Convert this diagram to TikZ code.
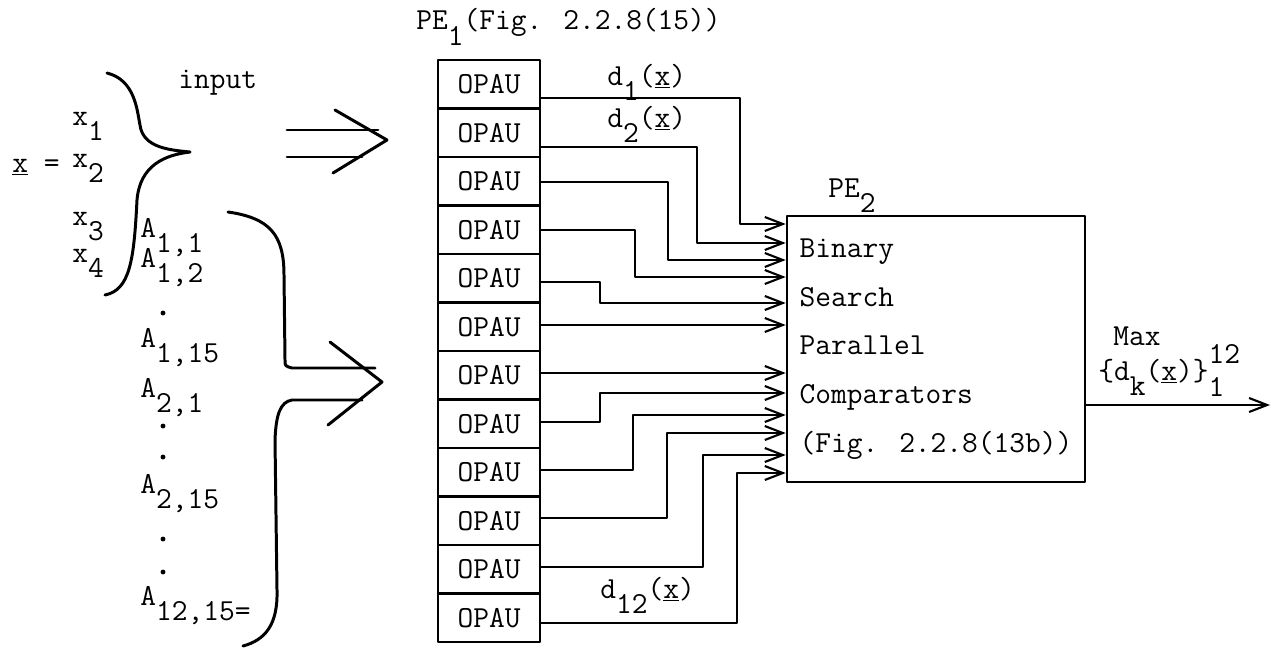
\documentclass[tikz,border=0pt]{standalone}
\usepackage{tikz}
\usetikzlibrary{arrows.meta,calc}
\newcommand{\dn}[1]{\raisebox{-0.5em}{#1}}
\tikzset
{
  typed/.style={font=\ttfamily\fontsize{17.4}{20}\selectfont,inner sep=0pt},
  cell/.style={typed,draw,line width=1.5pt,minimum width=2.04cm,minimum height=0.97cm},
  wire/.style={line width=1.4pt,-{Straight Barb[length=3.6mm,width=2.8mm,line width=1.2pt]}},
  brace/.style={line width=1.7pt},
  bigbox/.style={draw,line width=1.5pt,minimum width=5.96cm,minimum height=5.32cm,align=left,
                 font=\ttfamily\fontsize{17.4}{27.8}\selectfont}
}
\begin{document}
\begin{tikzpicture}[x=0.02cm,y=-0.02cm,line cap=round,line join=round]
  \useasboundingbox (0,0) rectangle (1274,649);
  % PE1 stolpec
  \foreach\i in{1,...,12}
    \node[cell] (op\i) at (489,{60+48.5*(\i-0.5)}) {OPAU};
  \node[typed,anchor=base west] (pe1lbl) at (416,30) {PE\dn{1}(Fig. 2.2.8(15))};
  % PE2
  \node[bigbox] (pe2) at (936,349) {Binary\\Search\\Parallel\\Comparators\\(Fig. 2.2.8(13b))};
  \node[typed,anchor=base west] (pe2lbl) at (828,197) {PE\dn{2}};
  % povezave
  \foreach\i/\ey/\vx/\iy in{1/98/740/224,2/147/697/243,3/182/668/260,4/230/635/277,
                            5/282/600/303,6/325/600/325,7/373/600/373,8/422/600/393,
                            9/470/633/415,10/518/667/433,11/567/703/455,12/623/737/473}
    \draw[wire] (op\i.east |- 0,\ey) -| (\vx,\iy) -- (pe2.west |- 0,\iy);
  \node[typed,anchor=base west] (d1)  at (607,85)  {d\dn{1}(\underline{x})};
  \node[typed,anchor=base west] (d2)  at (607,127) {d\dn{2}(\underline{x})};
  \node[typed,anchor=base west] (d12) at (600,598) {d\dn{12}(\underline{x})};
  % izhod
  \coordinate (out) at (1270,405);
  \draw[wire] (pe2.east |- out) -- (out);
  \node[typed,anchor=base west] (maxlbl) at (1113,345) {Max};
  \node[typed,anchor=base west] (dk) at (1098,380)
    {\{d\dn{k}(\underline{x})\}\rlap{\raisebox{0.55em}{12}}\raisebox{-0.55em}{1}};
  % vhod x
  \node[typed,anchor=base west] (xvec) at (12,172) {\underline{x} =};
  \foreach\i/\y in{1/125,2/167,3/225,4/262}
    \node[typed,anchor=base west] (x\i) at (72,\y) {x\dn{\i}};
  \node[typed,anchor=base west] (inp) at (178,88) {input};
  \draw[brace] (107,73) .. controls (135,80) and (137,110) .. (140,125)
               .. controls (143,148) and (170,150) .. (190,152)
               .. controls (165,155) and (140,165) .. (137,200)
               .. controls (134,260) and (130,290) .. (105,295);
  \draw[brace] (287,130) -- (378,130);
  \draw[brace] (287,157) -- (362,157);
  \draw[brace] (335,110) -- (387,140) -- (333,173);
  % vhod A
  \node[typed,anchor=base west] (a11)  at (140,237) {A\dn{1,1}};
  \node[typed,anchor=base west] (a12)  at (140,267) {A\dn{1,2}};
  \node[typed,anchor=base west] (a115) at (140,347) {A\dn{1,15}};
  \node[typed,anchor=base west] (a21)  at (140,397) {A\dn{2,1}};
  \node[typed,anchor=base west] (a215) at (140,493) {A\dn{2,15}};
  \node[typed,anchor=base west] (a1215) at (140,605) {A\dn{12,15=}};
  \foreach\y in{313,426,457,539,572}
    \fill (163,\y) circle [radius=1.4pt];
  \draw[brace] (228,212) .. controls (270,218) and (284,235) .. (284,275) -- (285,360)
               .. controls (285,366) .. (292,368) -- (375,368);
  \draw[brace] (362,400) -- (292,400) .. controls (280,402) and (276,415) .. (275,440)
               -- (277,590) .. controls (278,625) and (265,640) .. (243,646);
  \draw[brace] (330,342) -- (382,382) -- (328,425);
\end{tikzpicture}
\end{document}
